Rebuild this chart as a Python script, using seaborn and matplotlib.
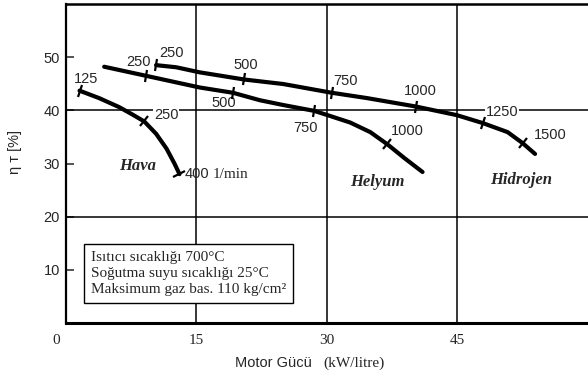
import numpy as np
import pandas as pd
import matplotlib
matplotlib.use("Agg")
import matplotlib.pyplot as plt
import seaborn as sns
from matplotlib.markers import MarkerStyle
from matplotlib.transforms import Affine2D, ScaledTranslation

# ---------------- data ----------------
gas_names = ["Hava", "Helyum", "Hidrojen"]

hava_x = [1.61, 3.86, 6.17, 7.70, 9.05, 10.40, 11.6, 12.51, 13.09]
hava_y = [43.7, 42.3, 40.6, 39.2, 37.9, 35.6, 32.8, 30.0, 28.0]

helyum_x = [4.44, 9.23, 15.40, 19.24, 22.32, 25.0, 28.55, 30.08, 32.70, 35.0, 36.97, 38.93, 41.0]
helyum_y = [48.2, 46.5, 44.3, 43.3, 41.9, 41.0, 39.9, 39.1, 37.7, 35.9, 33.6, 31.0, 28.4]

hidrojen_x = [10.40, 12.71, 15.40, 20.51, 25.0, 30.59, 34.63, 40.29, 44.92, 47.92, 50.77, 52.48, 53.92]
hidrojen_y = [48.5, 48.1, 47.15, 45.8, 44.95, 43.3, 42.3, 40.7, 39.1, 37.6, 35.9, 33.85, 31.8]

# speed marks (1/min) on each curve
hava_rpm = ["125", "250", "400"]
hava_mark_x = [1.61, 9.05, 13.09]
hava_mark_y = [43.7, 37.9, 28.0]

helyum_rpm = ["250", "500", "750", "1000"]
helyum_mark_x = [9.23, 19.24, 28.55, 36.97]
helyum_mark_y = [46.5, 43.3, 39.9, 33.6]

hidrojen_rpm = ["250", "500", "750", "1000", "1250", "1500"]
hidrojen_mark_x = [10.40, 20.51, 30.59, 40.29, 47.92, 52.48]
hidrojen_mark_y = [48.5, 45.8, 43.3, 40.7, 37.6, 33.85]

x_ticks = [0, 15, 30, 45]
y_ticks = [10, 20, 30, 40, 50]
grid_x = [15, 30, 45]
grid_y = [20, 40]

box_lines = ["Isıtıcı sıcaklığı 700°C",
             "Soğutma suyu sıcaklığı 25°C",
             "Maksimum gaz bas. 110 kg/cm²"]

# label offsets in pixels (styling)
hava_off = [(7, 12), (22, 6), (5, 0)]
helyum_off = [(-7, 14), (-9, -10), (-9, -17), (20, 13)]
hidrojen_off = [(15, 12), (2, 14), (14, 12), (4, 16), (19, 11), (28, 8)]
gas_label_pos = [(8.25, 29.5), (35.8, 26.6), (52.3, 26.9)]

# ---------------- style ----------------
sns.set_style("white")
plt.rcParams["font.family"] = ["Liberation Sans", "DejaVu Sans"]

fig = plt.figure(figsize=(5.88, 3.78), dpi=100)
W, H = 588, 378
ax = fig.add_axes([65.5 / W, (H - 323) / H, (W - 65.5) / W, (323 - 4) / H])
ax.set_xlim(0, 60)
ax.set_ylim(0, 60)

rows = []
for g, xs, ys in zip(gas_names, [hava_x, helyum_x, hidrojen_x], [hava_y, helyum_y, hidrojen_y]):
    for i, (xv, yv) in enumerate(zip(xs, ys)):
        rows.append({"gas": g, "x": xv, "y": yv, "i": i})
df = pd.DataFrame(rows)

sns.lineplot(data=df, x="x", y="y", hue="gas", palette={g: "black" for g in gas_names},
             sort=False, estimator=None, legend=False, lw=3.0, ax=ax, zorder=4,
             solid_joinstyle="round", solid_capstyle="round")

for v in grid_x:
    ax.axvline(v, color="black", lw=1.1, zorder=1)
for v in grid_y:
    ax.axhline(v, color="black", lw=1.1, zorder=1)

serif = "Liberation Serif"

def draw_marks(cx, cy, mx, my, labels, offs, white=()):
    pts = ax.transData.transform(np.column_stack([cx, cy]))
    for k, (xv, yv, lab, off) in enumerate(zip(mx, my, labels, offs)):
        d = np.hypot(np.array(cx) - xv, np.array(cy) - yv)
        i = int(np.argmin(d))
        a = pts[max(i - 1, 0)]
        b = pts[min(i + 1, len(cx) - 1)]
        ang = np.degrees(np.arctan2(b[1] - a[1], b[0] - a[0]))
        m = MarkerStyle("|", transform=Affine2D().rotate_deg(ang))
        ax.plot([xv], [yv], marker=m, color="black", ms=9, mew=1.6, zorder=5)
        kw = {}
        if k in white:
            kw["bbox"] = dict(facecolor="white", edgecolor="none", pad=0.5)
        ha = "left" if lab == "400" else "center"
        ax.annotate(lab, (xv, yv), xytext=off, textcoords="offset pixels",
                    ha=ha, va="center", fontsize=10.5, zorder=3, **kw)

draw_marks(hava_x, hava_y, hava_mark_x, hava_mark_y, hava_rpm, hava_off, white=(1,))
ax.annotate("1/min", (hava_mark_x[-1], hava_mark_y[-1]), xytext=(33, 0),
            textcoords="offset pixels", ha="left", va="center", fontsize=11, family=serif)
draw_marks(helyum_x, helyum_y, helyum_mark_x, helyum_mark_y, helyum_rpm, helyum_off)
draw_marks(hidrojen_x, hidrojen_y, hidrojen_mark_x, hidrojen_mark_y, hidrojen_rpm, hidrojen_off, white=(4,))

for g, (gx, gy) in zip(gas_names, gas_label_pos):
    ax.text(gx, gy, g, ha="center", va="center", fontsize=12, family=serif,
            fontweight="bold", fontstyle="italic", zorder=6)

ax.text(2.94, 9.3, "\n".join(box_lines), ha="left", va="center", fontsize=11,
        family=serif, linespacing=1.3, zorder=6,
        bbox=dict(boxstyle="square,pad=0.45", facecolor="white", edgecolor="black", lw=1.0))

# axes styling
ax.set_xticks(x_ticks)
ax.set_xticklabels([str(v) for v in x_ticks], fontfamily=serif, fontsize=11)
ax.set_yticks(y_ticks)
ax.set_yticklabels([str(v) for v in y_ticks], fontsize=10.5)
ax.tick_params(axis="x", length=0, pad=8)
ax.tick_params(axis="y", direction="in", length=6, width=1.1, pad=4, left=True)
lab0 = ax.get_xticklabels()[0]
lab0.set_transform(lab0.get_transform() + ScaledTranslation(-9 / 100, 0, fig.dpi_scale_trans))

for s in ["left", "top", "bottom"]:
    ax.spines[s].set_visible(True)
    ax.spines[s].set_color("black")
ax.spines["left"].set_linewidth(1.6)
ax.spines["top"].set_linewidth(1.8)
ax.spines["bottom"].set_linewidth(2.2)
ax.spines["right"].set_visible(False)

ax.set_xlabel("")
ax.set_ylabel("η т [%]", fontsize=10.5)
ax.yaxis.set_label_coords((22 - 65.5) / (W - 65.5), (323 - 152) / (323 - 4))

fig.text(312 / W, 1 - 363 / H, "Motor Gücü", ha="right", va="center", fontsize=10.5)
fig.text(323 / W, 1 - 363 / H, "(kW/litre)", ha="left", va="center", fontsize=11, family=serif)

fig.savefig("out.png", dpi=100)
